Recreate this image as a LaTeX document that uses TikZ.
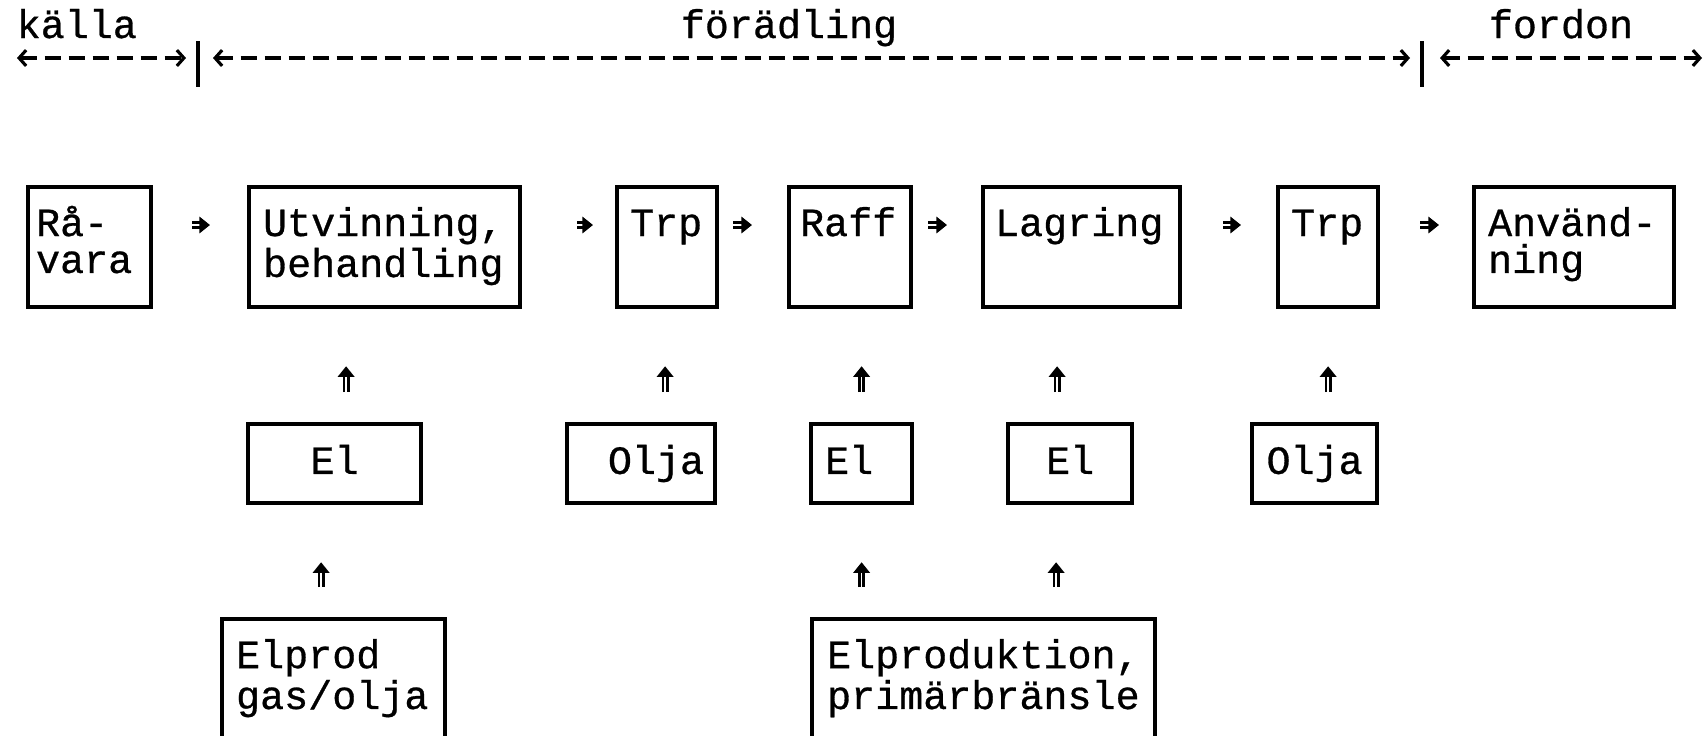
\documentclass[tikz,border=0pt]{standalone}
\usepackage{fontspec}
\setmonofont{Liberation Mono}[FakeBold=0.7]
\usetikzlibrary{arrows.meta}
\newcommand\typewr{\fontsize{11.4}{10.5}\selectfont\ttfamily}

\begin{document}
\begin{tikzpicture}[
    box/.style={draw, line width=1.2pt, font=\typewr, anchor=north west, align=left,
      inner ysep=0pt, text height=7.35pt, text depth=13.65pt, minimum height=1.2cm},
    supply/.style={draw, line width=1.2pt, font=\typewr, anchor=north west,
      inner ysep=0pt, text height=7.35pt, text depth=1.5pt, minimum height=0.79cm},
    heading/.style={font=\typewr, inner sep=0pt},
    flow/.style={line width=0.75pt, double, double distance=0.5pt,
      -{Triangle[length=3pt,width=4.6pt]}},
    span/.style={line width=0.9pt, dash pattern=on 1.6mm off 0.8mm,
      {Straight Barb[length=2pt,width=4.5pt]}-{Straight Barb[length=2pt,width=4.5pt]}}
  ]
    \useasboundingbox (0,0) rectangle (17.06,-7.35);
    \clip (0,0) rectangle (17.06,-7.35);

    % Phases
    \node[heading, anchor=base west] (kalla) at (0.16,-0.38) {källa};
    \node[heading, anchor=base] (foradling) at (7.89,-0.38) {förädling};
    \node[heading, anchor=base] (fordon) at (15.61,-0.38) {fordon};

    \coordinate (start) at (0.17,-0.58);
    \coordinate (lim1) at (1.98,-0.58);
    \coordinate (lim2) at (14.22,-0.58);
    \coordinate (stop) at (17.02,-0.58);
    \draw[line width=1.2pt] ([yshift=1.7mm]lim1) -- ([yshift=-2.9mm]lim1);
    \draw[line width=1.2pt] ([yshift=1.7mm]lim2) -- ([yshift=-2.9mm]lim2);
    \draw[span, shorten >=1.2mm] (start) -- (lim1);
    \draw[span, shorten <=1.5mm, shorten >=1.2mm] (lim1) -- (lim2);
    \draw[span, shorten <=1.8mm] (lim2) -- (stop);

    % Chain
    \node[box, inner xsep=0.08cm, text width=1.07cm] (ravara) at (0.26,-1.85) {Rå-\\vara};
    \node[box, inner xsep=0.14cm, text width=2.43cm] (utvinning) at (2.47,-1.85) {Utvinning,\\behandling};
    \node[box, inner xsep=0.13cm, text width=0.74cm] (trp1) at (6.15,-1.85) {Trp};
    \node[box, inner xsep=0.11cm, text width=1.00cm] (raff) at (7.87,-1.85) {Raff};
    \node[box, inner xsep=0.12cm, text width=1.73cm] (lagring) at (9.81,-1.85) {Lagring};
    \node[box, inner xsep=0.13cm, text width=0.74cm] (trp2) at (12.76,-1.85) {Trp};
    \node[box, inner xsep=0.14cm, text width=1.72cm] (anvandning) at (14.72,-1.85) {Använd-\\ning};

    % Supplies
    \node[supply, minimum width=1.73cm] (el1) at (2.46,-4.22) {El};
    \node[supply, align=right, inner xsep=0.11cm, text width=1.26cm] (olja1) at (5.65,-4.22) {Olja};
    \node[supply, align=left, inner xsep=0.14cm, text width=0.73cm] (el2) at (8.09,-4.22) {El};
    \node[supply, minimum width=1.24cm] (el3) at (10.06,-4.22) {El};
    \node[supply, minimum width=1.25cm] (olja2) at (12.50,-4.22) {Olja};

    % Electricity production
    \node[box, inner xsep=0.14cm, text width=1.95cm, minimum height=1.6cm, text depth=25pt] (elprod) at (2.20,-6.17) {Elprod\\gas/olja};
    \node[box, inner xsep=0.15cm, text width=3.13cm, minimum height=1.6cm, text depth=25pt] (elproduktion) at (8.10,-6.17) {Elproduktion,\\primärbränsle};

    % Flow along the chain
    \draw[flow, shorten <=3.9mm, shorten >=3.7mm] ([yshift=-4mm]ravara.north east) -- ([yshift=-4mm]utvinning.north west);
    \draw[flow, shorten <=5.5mm, shorten >=2.2mm] ([yshift=-4mm]utvinning.north east) -- ([yshift=-4mm]trp1.north west);
    \draw[flow, shorten <=1.4mm, shorten >=3.5mm] ([yshift=-4mm]trp1.north east) -- ([yshift=-4mm]raff.north west);
    \draw[flow, shorten <=1.5mm, shorten >=3.4mm] ([yshift=-4mm]raff.north east) -- ([yshift=-4mm]lagring.north west);
    \draw[flow, shorten <=4.1mm, shorten >=3.5mm] ([yshift=-4mm]lagring.north east) -- ([yshift=-4mm]trp2.north west);
    \draw[flow, shorten <=4mm, shorten >=3.3mm] ([yshift=-4mm]trp2.north east) -- ([yshift=-4mm]anvandning.north west);

    % Energy input
    \draw[flow, shorten <=3mm, shorten >=5.7mm] ([xshift=1.15mm]el1.north) -- ([xshift=1.15mm]el1.north |- utvinning.south);
    \draw[flow, shorten <=3mm, shorten >=5.7mm] ([xshift=2.4mm]olja1.north) -- ([xshift=2.4mm]olja1.north |- trp1.south);
    \draw[flow, shorten <=3mm, shorten >=5.7mm] (el2.north) -- (el2.north |- raff.south);
    \draw[flow, shorten <=3mm, shorten >=5.7mm] ([xshift=-1.3mm]el3.north) -- ([xshift=-1.3mm]el3.north |- lagring.south);
    \draw[flow, shorten <=3mm, shorten >=5.7mm] ([xshift=1.35mm]olja2.north) -- ([xshift=1.35mm]olja2.north |- trp2.south);

    \draw[flow, shorten <=3mm, shorten >=5.7mm] ([xshift=-1.35mm]el1.south |- elprod.north) -- ([xshift=-1.35mm]el1.south);
    \draw[flow, shorten <=3mm, shorten >=5.7mm] (el2.south |- elproduktion.north) -- (el2.south);
    \draw[flow, shorten <=3mm, shorten >=5.7mm] ([xshift=-1.4mm]el3.south |- elproduktion.north) -- ([xshift=-1.4mm]el3.south);
\end{tikzpicture}
\end{document}
